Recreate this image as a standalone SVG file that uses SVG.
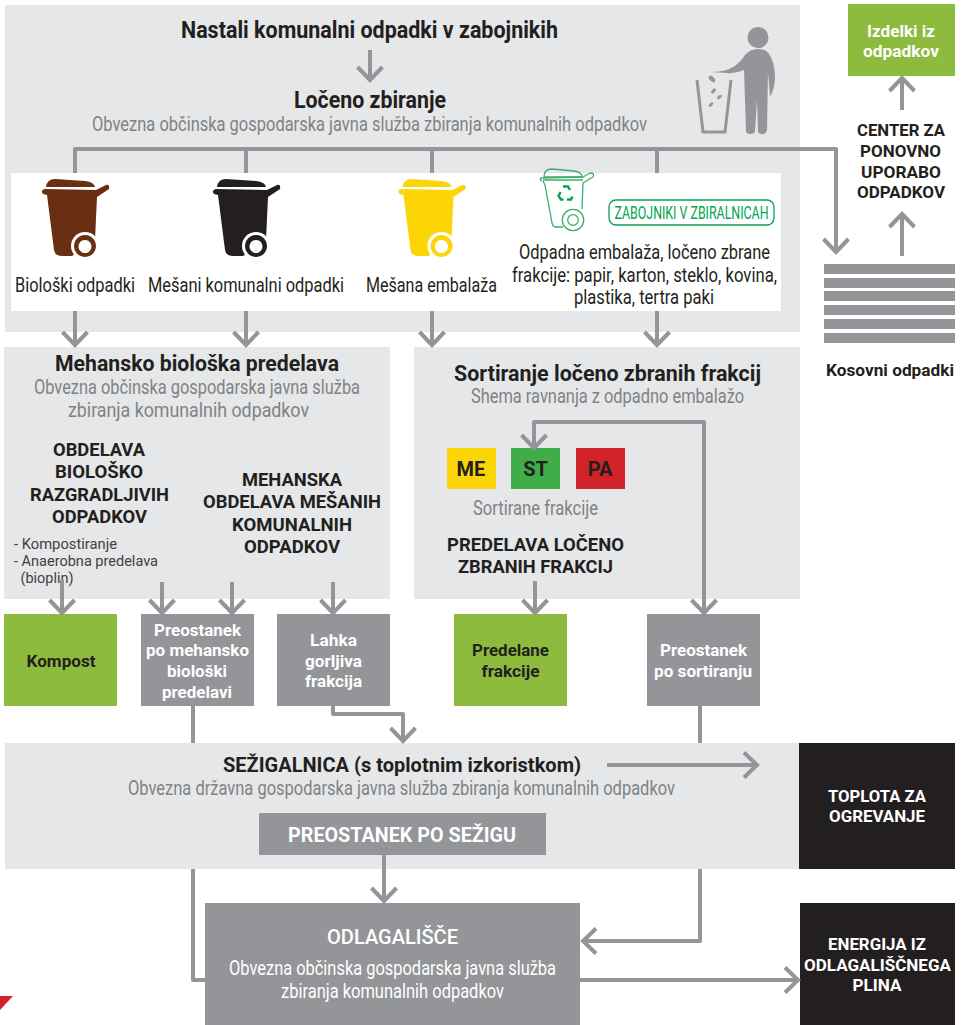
<svg xmlns="http://www.w3.org/2000/svg" xmlns:xlink="http://www.w3.org/1999/xlink" width="962" height="1025" viewBox="0 0 962 1025">
<style>
text{font-family:Roboto,"Liberation Sans",sans-serif;text-anchor:middle;fill:#231f20}
.h{font-weight:700;font-size:23px}
.s{font-size:20px;fill:#808285}
.l{font-size:20px}
.b{font-weight:700;font-size:18.500px}
.n{font-weight:700;font-size:17px}
.t{font-size:14px;fill:#414042}
.w{fill:#fff}
.p{fill:#e6e7e8}
.g{fill:#939598}
.c{fill:none;stroke:#939598;stroke-width:4;stroke-linejoin:round}
.a{fill:none;stroke:#939598;stroke-width:4;stroke-linejoin:miter}
</style>
<defs>
<marker id="arr" viewBox="0 0 28 28" refX="24" refY="14" markerWidth="28" markerHeight="28" markerUnits="userSpaceOnUse" orient="auto"><path d="M11 1.500L24 14L11 26.500" fill="none" stroke="#939598" stroke-width="4"/></marker>
<g id="bin">
<path d="M46 187Q47 179 55 179L85 181Q94 182 95 187Z"/>
<path d="M43 194Q40 190 45 189L96 190L106 185Q110 184 109 189L97 197L95 240L72 256L62 256Q55 256 54 250L47 195Z"/>
<circle cx="85" cy="246" r="14" fill="#fff"/>
<path fill-rule="evenodd" d="M85 235a11 11 0 1 0 .01 0ZM85 240a6.500 6.500 0 1 1-.01 0Z"/>
</g>
</defs>

<g id="panel-top">
<rect class="p" x="5" y="5" width="795" height="327"/>
<text class="h" x="369.500" y="38" textLength="377" lengthAdjust="spacingAndGlyphs">Nastali komunalni odpadki v zabojnikih</text>
<text class="h" x="370" y="108" textLength="152" lengthAdjust="spacingAndGlyphs">Ločeno zbiranje</text>
<text class="s" x="369.500" y="131" textLength="555" lengthAdjust="spacingAndGlyphs">Obvezna občinska gospodarska javna služba zbiranja komunalnih odpadkov</text>
</g>
<g id="person">
<circle class="g" cx="758" cy="37.500" r="10.500"/>
<path class="g" d="M710 72Q726 72 733 67Q740 63 745 55Q750 49 758 49Q766 49 769 54Q775 63 775 77Q775 88 770 97Q769 85 768 72L767 130Q765 135 762 134Q758 134 758 131L757 100L755 131Q755 134 750 134Q746 134 746 131L744 70Q735 74 727 73Z"/>
<path fill="none" stroke="#939598" stroke-width="3" d="M697 80L703 132H725L731 80"/>
<g class="g"><ellipse cx="712" cy="79" rx="4" ry="2.200" transform="rotate(45 712 79)"/><ellipse cx="713.500" cy="91" rx="3" ry="1.700" transform="rotate(-50 713.500 91)"/><ellipse cx="719.500" cy="97" rx="2.800" ry="1.500" transform="rotate(-40 719.500 97)"/><ellipse cx="711" cy="104.500" rx="2.800" ry="1.500" transform="rotate(-45 711 104.500)"/></g>
</g>

<g id="connectors-top">
<path class="a" d="M370 50V80" marker-end="url(#arr)"/>
<path class="c" d="M75 173V149H836V252" marker-end="url(#arr)"/>
<path class="c" d="M246 149V173M432 149V173M657 149V173"/>
</g>

<g id="panel-white">
<rect x="11" y="173" width="770" height="138" fill="#fff"/>
</g>
<g id="bin-bio"><use href="#bin" fill="#6a2e12"/><text class="l" x="75" y="292" textLength="120" lengthAdjust="spacingAndGlyphs">Biološki odpadki</text></g>
<g id="bin-mixed"><use href="#bin" x="171" fill="#231f20"/><text class="l" x="246" y="292" textLength="196" lengthAdjust="spacingAndGlyphs">Mešani komunalni odpadki</text></g>
<g id="bin-packaging"><use href="#bin" x="356.500" fill="#fbd506"/><text class="l" x="431.500" y="292" textLength="131" lengthAdjust="spacingAndGlyphs">Mešana embalaža</text></g>
<g id="bin-green">
<g fill="none" stroke="#3fae6a" stroke-width="1.300" stroke-linejoin="round">
<path d="M544 177Q544 169 552 169L574 171Q582 172 582 177Z"/>
<path d="M542 181Q539 180 541 178L583 177L590 173Q595 173 593 177L583 183L582 209M543 181L545 185L552 223Q553 227 556 227H563"/>
<path d="M543 180H583"/>
<circle cx="573" cy="220" r="10.700"/><circle cx="573" cy="220" r="5.300"/>
</g>
<g fill="none" stroke="#00a651" stroke-width="2.400">
<path d="M563 186.500H568L570 190M560.500 192L558.500 196L561 199.500H563.500M567 199.500H571L572.500 196.500"/>
</g>
<rect x="609" y="200" width="165" height="25" rx="7" fill="none" stroke="#00a651" stroke-width="1.300"/>
<text x="691.500" y="219" font-size="19" style="fill:#00a651" textLength="154" lengthAdjust="spacingAndGlyphs">ZABOJNIKI V ZBIRALNICAH</text>
<text class="l" x="644.500" y="259" textLength="251" lengthAdjust="spacingAndGlyphs">Odpadna embalaža, ločeno zbrane</text>
<text class="l" x="644.500" y="282" textLength="265" lengthAdjust="spacingAndGlyphs">frakcije: papir, karton, steklo, kovina,</text>
<text class="l" x="644" y="304" textLength="140" lengthAdjust="spacingAndGlyphs">plastika, tertra paki</text>
</g>

<g id="panel-mbt">
<rect class="p" x="4" y="347" width="386" height="252"/>
<text class="h" x="197" y="371" style="font-size:22px" textLength="284" lengthAdjust="spacingAndGlyphs">Mehansko biološka predelava</text>
<text class="s" x="197" y="394" textLength="326" lengthAdjust="spacingAndGlyphs">Obvezna občinska gospodarska javna služba</text>
<text class="s" x="188.500" y="417" textLength="241" lengthAdjust="spacingAndGlyphs">zbiranja komunalnih odpadkov</text>
<text class="b" x="99" y="456" textLength="92" lengthAdjust="spacingAndGlyphs">OBDELAVA</text>
<text class="b" x="99" y="478" textLength="88" lengthAdjust="spacingAndGlyphs">BIOLOŠKO</text>
<text class="b" x="99.500" y="501" textLength="139" lengthAdjust="spacingAndGlyphs">RAZGRADLJIVIH</text>
<text class="b" x="99.500" y="523" textLength="95" lengthAdjust="spacingAndGlyphs">ODPADKOV</text>
<text class="t" x="65.500" y="549" textLength="103" lengthAdjust="spacingAndGlyphs">- Kompostiranje</text>
<text class="t" x="86" y="566" textLength="144" lengthAdjust="spacingAndGlyphs">- Anaerobna predelava</text>
<text class="t" x="47" y="583" textLength="53" lengthAdjust="spacingAndGlyphs">(bioplin)</text>
<text class="b" x="292" y="486" textLength="100" lengthAdjust="spacingAndGlyphs">MEHANSKA</text>
<text class="b" x="292" y="508" textLength="178" lengthAdjust="spacingAndGlyphs">OBDELAVA MEŠANIH</text>
<text class="b" x="292" y="531" textLength="120" lengthAdjust="spacingAndGlyphs">KOMUNALNIH</text>
<text class="b" x="292" y="553" textLength="96" lengthAdjust="spacingAndGlyphs">ODPADKOV</text>
</g>

<g id="panel-sort">
<rect class="p" x="414" y="347" width="386" height="252"/>
<text class="h" x="607.500" y="381" style="font-size:22px" textLength="307" lengthAdjust="spacingAndGlyphs">Sortiranje ločeno zbranih frakcij</text>
<text class="s" x="607.500" y="403" textLength="273" lengthAdjust="spacingAndGlyphs">Shema ravnanja z odpadno embalažo</text>
<text class="s" x="535.500" y="515" textLength="125" lengthAdjust="spacingAndGlyphs">Sortirane frakcije</text>
<text class="b" x="535.500" y="551" textLength="177" lengthAdjust="spacingAndGlyphs">PREDELAVA LOČENO</text>
<text class="b" x="535.500" y="573" textLength="155" lengthAdjust="spacingAndGlyphs">ZBRANIH FRAKCIJ</text>
</g>
<g id="frac-me"><rect x="447" y="448" width="49" height="41" fill="#fbd506"/><text x="471" y="476" font-size="20" font-weight="700">ME</text></g>
<g id="frac-st"><rect x="511" y="448" width="49" height="41" fill="#3fae49"/><text x="535.500" y="476" font-size="20" font-weight="700">ST</text></g>
<g id="frac-pa"><rect x="576" y="448" width="49" height="41" fill="#d2232a"/><text x="600" y="476" font-size="20" font-weight="700">PA</text></g>

<g id="box-kompost"><rect x="4" y="614" width="113" height="92" fill="#8cbb3e"/><text class="n" x="61" y="667" textLength="69" lengthAdjust="spacingAndGlyphs">Kompost</text></g>
<g id="box-preostanek-mbt"><rect class="g" x="141" y="614" width="113" height="92"/>
<text class="n w" x="197.500" y="636" textLength="87" lengthAdjust="spacingAndGlyphs">Preostanek</text>
<text class="n w" x="197.500" y="656" textLength="103" lengthAdjust="spacingAndGlyphs">po mehansko</text>
<text class="n w" x="197" y="677" textLength="60" lengthAdjust="spacingAndGlyphs">biološki</text>
<text class="n w" x="197" y="698" textLength="70" lengthAdjust="spacingAndGlyphs">predelavi</text></g>
<g id="box-lahka"><rect class="g" x="277" y="614" width="113" height="92"/>
<text class="n w" x="333.500" y="646" textLength="47" lengthAdjust="spacingAndGlyphs">Lahka</text>
<text class="n w" x="333.500" y="667" textLength="57" lengthAdjust="spacingAndGlyphs">gorljiva</text>
<text class="n w" x="333.500" y="687" textLength="57" lengthAdjust="spacingAndGlyphs">frakcija</text></g>
<g id="box-predelane"><rect x="454" y="614" width="113" height="92" fill="#8cbb3e"/>
<text class="n" x="510.500" y="656" textLength="77" lengthAdjust="spacingAndGlyphs">Predelane</text>
<text class="n" x="510.500" y="677" textLength="58" lengthAdjust="spacingAndGlyphs">frakcije</text></g>
<g id="box-preostanek-sort"><rect class="g" x="647" y="614" width="113" height="92"/>
<text class="n w" x="703.500" y="656" textLength="87" lengthAdjust="spacingAndGlyphs">Preostanek</text>
<text class="n w" x="703" y="677" textLength="98" lengthAdjust="spacingAndGlyphs">po sortiranju</text></g>

<g id="panel-incinerator">
<rect class="p" x="5" y="743" width="795" height="126"/>
<text class="h" x="402" y="772" style="font-size:20.500px" textLength="358" lengthAdjust="spacingAndGlyphs">SEŽIGALNICA (s toplotnim izkoristkom)</text>
<text class="s" x="401.500" y="795" textLength="547" lengthAdjust="spacingAndGlyphs">Obvezna državna gospodarska javna služba zbiranja komunalnih odpadkov</text>
</g>
<g id="box-residue"><rect class="g" x="259" y="813" width="287" height="42"/><text class="w" x="402" y="842" font-size="20" font-weight="700" textLength="228" lengthAdjust="spacingAndGlyphs">PREOSTANEK PO SEŽIGU</text></g>
<g id="box-landfill"><rect class="g" x="205" y="903" width="375" height="122"/>
<text class="w" x="392.500" y="944" font-size="19.500" font-weight="500" textLength="131" lengthAdjust="spacingAndGlyphs">ODLAGALIŠČE</text>
<text class="w" x="392.500" y="975" font-size="20" textLength="327" lengthAdjust="spacingAndGlyphs">Obvezna občinska gospodarska javna služba</text>
<text class="w" x="392.500" y="998" font-size="20" textLength="223" lengthAdjust="spacingAndGlyphs">zbiranja komunalnih odpadkov</text></g>
<g id="box-heat"><rect x="799" y="743" width="156" height="126" fill="#231f20"/>
<text class="n w" x="877" y="802" textLength="98" lengthAdjust="spacingAndGlyphs">TOPLOTA ZA</text>
<text class="n w" x="877" y="822" textLength="96" lengthAdjust="spacingAndGlyphs">OGREVANJE</text></g>
<g id="box-energy"><rect x="800" y="903" width="155" height="122" fill="#231f20"/>
<text class="n w" x="877" y="950" textLength="98" lengthAdjust="spacingAndGlyphs">ENERGIJA IZ</text>
<text class="n w" x="877.500" y="971" textLength="147" lengthAdjust="spacingAndGlyphs">ODLAGALIŠČNEGA</text>
<text class="n w" x="877" y="991" textLength="49" lengthAdjust="spacingAndGlyphs">PLINA</text></g>
<g id="box-products"><rect x="848" y="4" width="107" height="72" fill="#8cbb3e"/>
<text class="n w" x="901" y="37" textLength="68" lengthAdjust="spacingAndGlyphs">Izdelki iz</text>
<text class="n w" x="901" y="57" textLength="76" lengthAdjust="spacingAndGlyphs">odpadkov</text></g>
<g id="center-reuse">
<text class="n" x="901" y="136" textLength="88" lengthAdjust="spacingAndGlyphs">CENTER ZA</text>
<text class="n" x="900.500" y="157" textLength="81" lengthAdjust="spacingAndGlyphs">PONOVNO</text>
<text class="n" x="901" y="178" textLength="80" lengthAdjust="spacingAndGlyphs">UPORABO</text>
<text class="n" x="901" y="198" textLength="88" lengthAdjust="spacingAndGlyphs">ODPADKOV</text>
</g>
<g id="bulky">
<g class="g"><rect x="824" y="264" width="131" height="10"/><rect x="824" y="278" width="131" height="10"/><rect x="824" y="291" width="131" height="10"/><rect x="824" y="305" width="131" height="10"/><rect x="824" y="319" width="131" height="10"/><rect x="824" y="333" width="131" height="10"/></g>
<text x="890" y="376" font-size="16.500" font-weight="700" textLength="128" lengthAdjust="spacingAndGlyphs">Kosovni odpadki</text>
</g>

<g id="connectors">
<path class="a" d="M75 311V345" marker-end="url(#arr)"/>
<path class="a" d="M246 311V345" marker-end="url(#arr)"/>
<path class="a" d="M432 311V345" marker-end="url(#arr)"/>
<path class="a" d="M657 311V345" marker-end="url(#arr)"/>
<path class="a" d="M902 110V78" marker-end="url(#arr)"/>
<path class="a" d="M902 256V214" marker-end="url(#arr)"/>
<path class="a" d="M62 580V613" marker-end="url(#arr)"/>
<path class="a" d="M162 582V613" marker-end="url(#arr)"/>
<path class="a" d="M232 582V613" marker-end="url(#arr)"/>
<path class="a" d="M333 582V613" marker-end="url(#arr)"/>
<path class="a" d="M535 581V613" marker-end="url(#arr)"/>
<path class="c" d="M704 613V422H534V448" marker-end="url(#arr)"/>
<path class="c" d="M704 560V613" marker-end="url(#arr)"/>
<path class="c" d="M193 706V743M700 706V743"/>
<path class="c" d="M333 706V714H403V741" marker-end="url(#arr)"/>
<path class="a" d="M607 765H757" marker-end="url(#arr)"/>
<path class="a" d="M384 855V901" marker-end="url(#arr)"/>
<path class="c" d="M193 869V980H205"/>
<path class="c" d="M700 869V941H583" marker-end="url(#arr)"/>
<path class="a" d="M580 980H798" marker-end="url(#arr)"/>
</g>
<path id="corner" d="M0 996H13L0 1010Z" fill="#d2232a"/>
</svg>
